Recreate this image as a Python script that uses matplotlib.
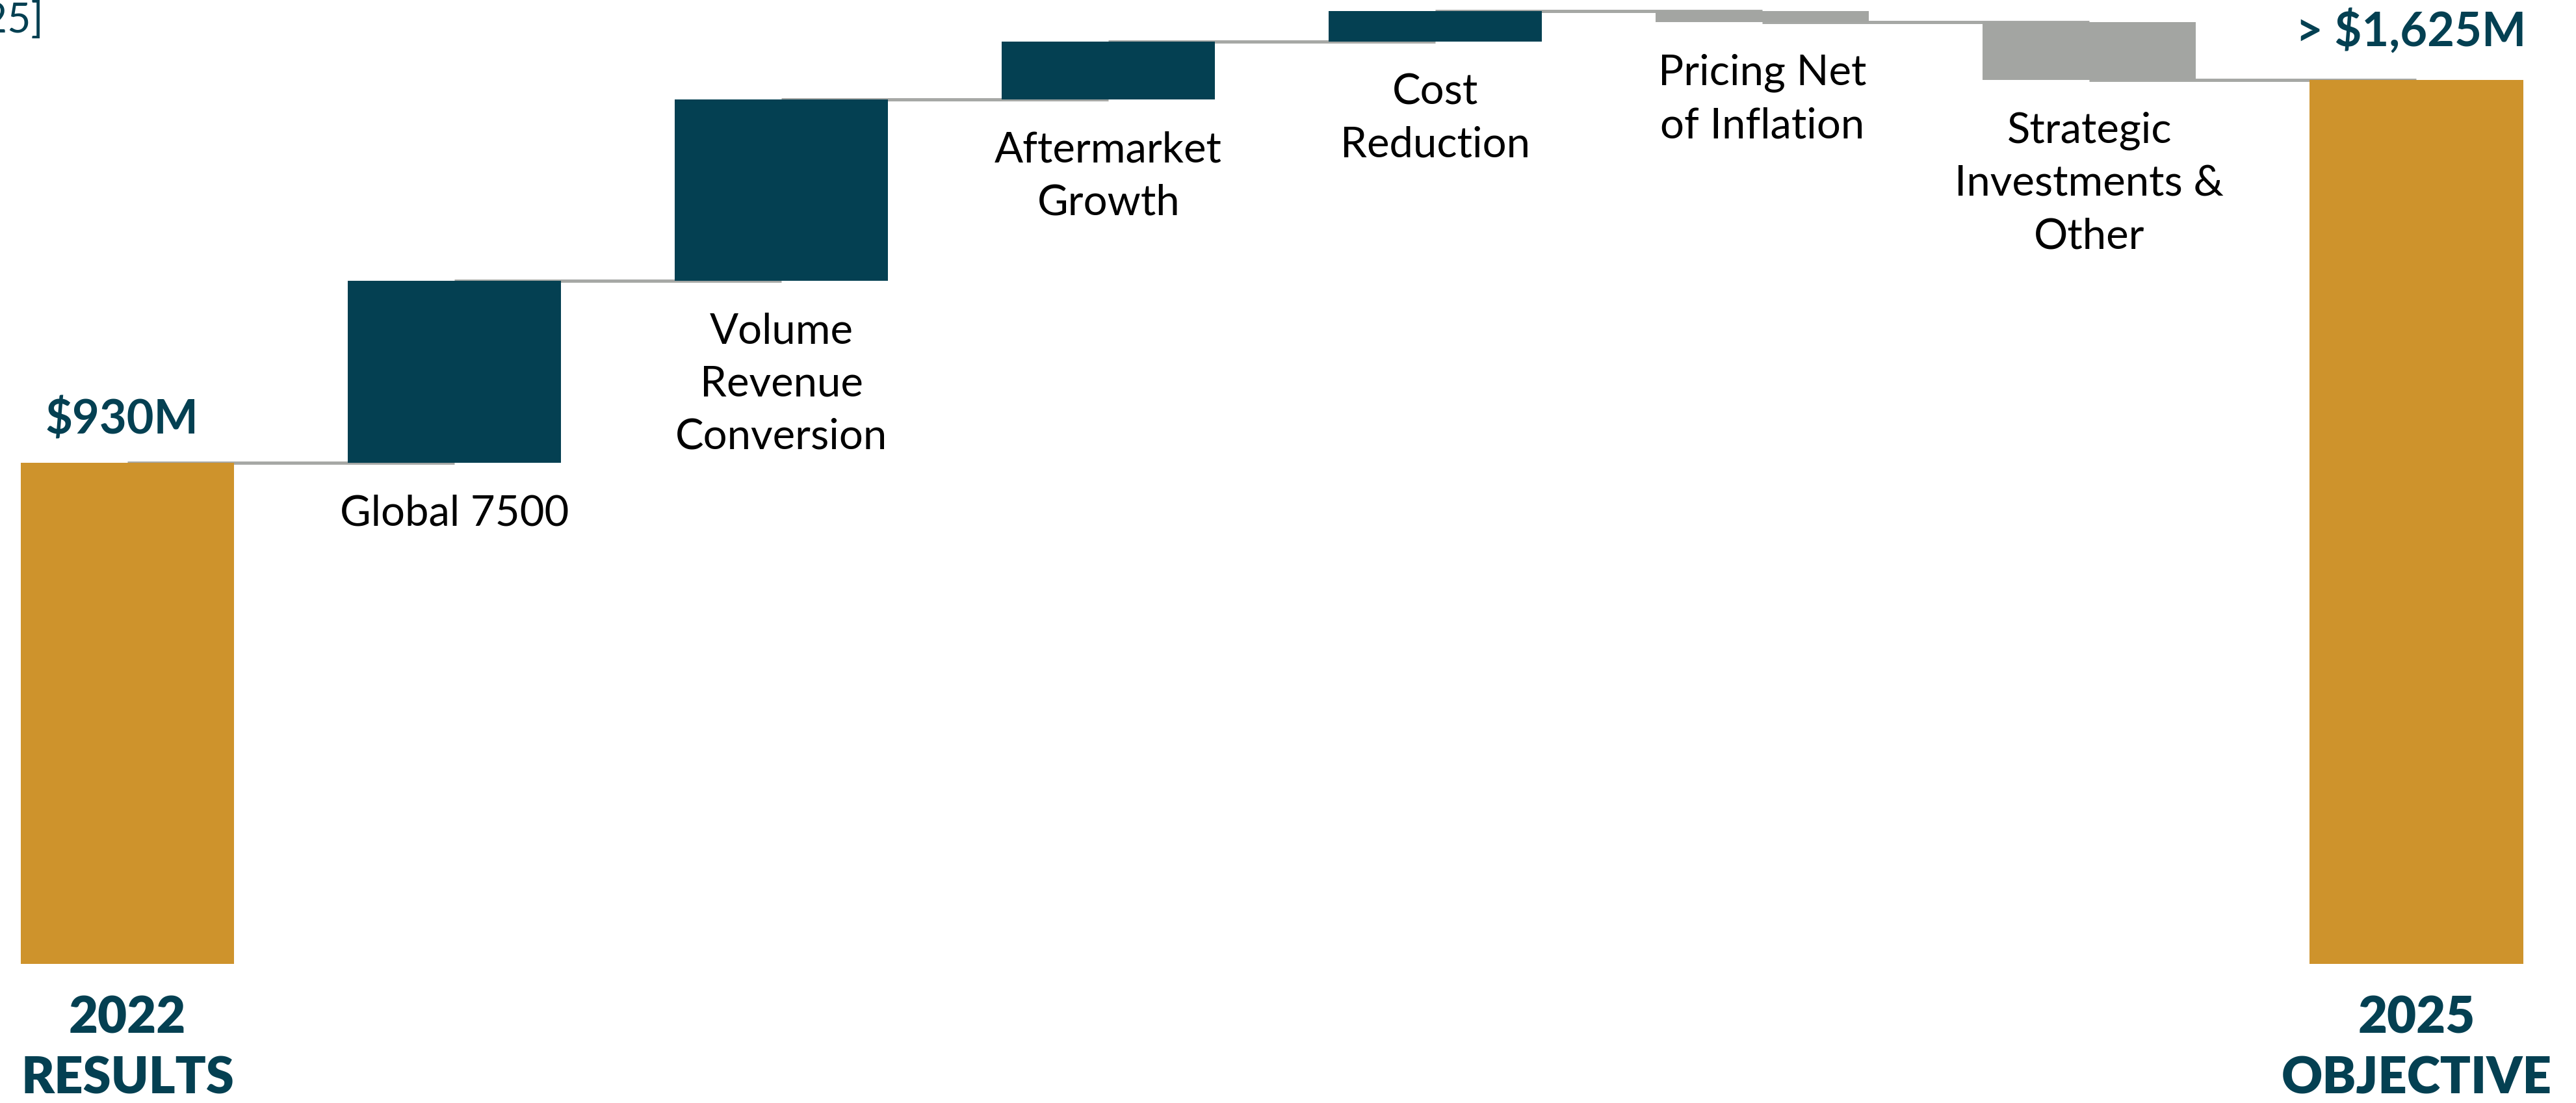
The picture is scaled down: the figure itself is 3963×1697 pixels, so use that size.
import matplotlib
matplotlib.use('Agg')
import matplotlib.pyplot as plt

# bridge from 2022 results to the 2025 objective ($M)
steps = ['2022\nRESULTS', 'Global 7500', 'Volume\nRevenue\nConversion', 'Aftermarket\nGrowth',
         'Cost\nReduction', 'Pricing Net\nof Inflation', 'Strategic\nInvestments &\nOther',
         '2025\nOBJECTIVE']
start = 930
deltas = [330, 330, 105, 55, -20, -105]
end = 1625
total_labels = ['$930M', '> $1,625M']

teal = '#044052'
gold = '#ce932c'
grey = '#a3a5a2'
line_grey = '#a6a8a5'

plt.rcParams['font.family'] = ['Lato', 'DejaVu Sans']

W, H = 3963, 1697
fig = plt.figure(figsize=(W / 100, H / 100), dpi=100)
ax = fig.add_axes([0, 214 / H, 1, 1483 / H])

width = 0.652
levels = [start]
for d in deltas:
    levels.append(levels[-1] + d)

# connectors sit under the bars
for i in range(len(levels)):
    ax.plot([i, i + 1], [levels[i], levels[i]], color=line_grey, lw=3.6,
            solid_capstyle='butt', zorder=1)

ax.bar(0, start, width, color=gold, zorder=2)
ax.bar(len(steps) - 1, end, width, color=gold, zorder=2)
for i, d in enumerate(deltas, 1):
    lo = min(levels[i - 1], levels[i])
    ax.bar(i, abs(d), width, bottom=lo, color=teal if d > 0 else grey, zorder=2)
    ax.annotate(steps[i], (i, lo), xytext=(0, -35), textcoords='offset points',
                ha='center', va='top', fontsize=47, color='black', linespacing=1.46)

# totals
for xi, val, txt, off in [(0, start, total_labels[0], 32), (len(steps) - 1, end, total_labels[1], 38)]:
    ax.annotate(txt, (xi, val), xytext=(-6, off), textcoords='offset points',
                ha='center', va='baseline', fontsize=52, fontweight='bold', color=teal)
    ax.annotate(steps[xi], (xi, 0), xycoords=('data', 'axes fraction'),
                xytext=(0, -35), textcoords='offset points', ha='center', va='top',
                fontsize=56, fontweight='heavy', color=teal, linespacing=1.38)

fig.text(67 / W, 1 - 50 / H, '[2022 - 2025]', ha='right', va='baseline',
         fontsize=45, color=teal)

ax.set_xlim(-196 / 503.07, 7 + (W - 3717.5) / 503.07)
ax.set_ylim(20, 1770)
ax.axis('off')

fig.savefig('out.png', dpi=100)
